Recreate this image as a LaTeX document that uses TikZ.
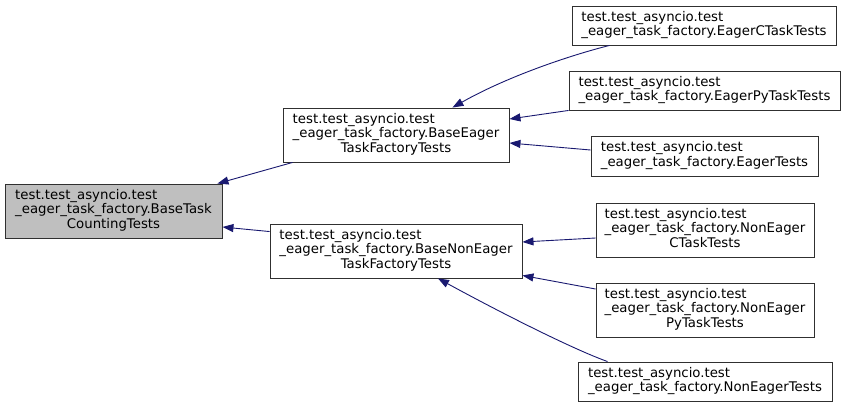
\documentclass[tikz,border=0pt]{standalone}
\usepackage{fontspec}
\setmainfont{DejaVu Sans}
\usetikzlibrary{arrows.meta,calc}
\definecolor{edgeblue}{HTML}{191970}
\definecolor{boxgray}{HTML}{BFBFBF}
\definecolor{boxline}{HTML}{303030}
\newcommand{\twoline}[2]{\begin{tabular}{@{}l@{}}#1\\#2\end{tabular}}
\newcommand{\threeline}[3]{\begin{tabular}{@{}l@{}}#1\\#2\\\multicolumn{1}{@{}c@{}}{#3}\end{tabular}}
\tikzset{
  cls/.style={draw=boxline, line width=0.9pt, fill=white, inner sep=0pt, anchor=center,
    font=\fontsize{13.3}{14.8}\selectfont},
  edge/.style={draw=edgeblue, line width=0.9pt, -{Triangle[length=11pt,width=8pt]}},
}
\begin{document}
\begin{tikzpicture}[x=1pt,y=-1pt]
\useasboundingbox (0,0) rectangle (845,409);
\node[cls, fill=boxgray, minimum width=217pt, minimum height=54pt] (g) at (113.5,211)
  {\threeline{test.test\_asyncio.test}{\_eager\_task\_factory.BaseTask}{CountingTests}};
\node[cls, minimum width=226pt, minimum height=54pt] (bE) at (396,135)
  {\threeline{test.test\_asyncio.test}{\_eager\_task\_factory.BaseEager}{TaskFactoryTests}};
\node[cls, minimum width=252pt, minimum height=54pt] (bN) at (396,251)
  {\threeline{test.test\_asyncio.test}{\_eager\_task\_factory.BaseNonEager}{TaskFactoryTests}};
\node[cls, minimum width=264pt, minimum height=39pt] (eC) at (704,25.5)
  {\twoline{test.test\_asyncio.test}{\_eager\_task\_factory.EagerCTaskTests}};
\node[cls, minimum width=271pt, minimum height=39pt] (eP) at (704.5,90.5)
  {\twoline{test.test\_asyncio.test}{\_eager\_task\_factory.EagerPyTaskTests}};
\node[cls, minimum width=227pt, minimum height=40pt] (eT) at (704.5,156)
  {\twoline{test.test\_asyncio.test}{\_eager\_task\_factory.EagerTests}};
\node[cls, minimum width=218pt, minimum height=54pt] (nC) at (705,230)
  {\threeline{test.test\_asyncio.test}{\_eager\_task\_factory.NonEager}{CTaskTests}};
\node[cls, minimum width=218pt, minimum height=54pt] (nP) at (705,310)
  {\threeline{test.test\_asyncio.test}{\_eager\_task\_factory.NonEager}{PyTaskTests}};
\node[cls, minimum width=254pt, minimum height=39pt] (nT) at (705,381.5)
  {\twoline{test.test\_asyncio.test}{\_eager\_task\_factory.NonEagerTests}};

\draw[edge] ($(bE.south west)+(10,0)$) -- ($(g.north east)+(-5,0)$);
\draw[edge] ($(bN.north west)+(0,8)$) -- ($(g.east)+(0,16)$);
\draw[edge] ($(eC.south west)+(38,0)$) .. controls (575,54) and (510,75) .. ($(bE.north east)+(-57,0)$);
\draw[edge] (eP.south west) -- ($(bE.east)+(0,-16)$);
\draw[edge] ($(eT.west)+(0,-6)$) -- ($(bE.east)+(0,8)$);
\draw[edge] ($(nC.west)+(0,8)$) -- ($(bN.east)+(0,-9)$);
\draw[edge] ($(nP.west)+(0,-21)$) -- ($(bN.south east)+(0,-3)$);
\draw[edge] ($(nT.north west)+(30,0)$) .. controls (575,350) and (505,315) .. ($(bN.south)+(42,0)$);
\end{tikzpicture}
\end{document}
